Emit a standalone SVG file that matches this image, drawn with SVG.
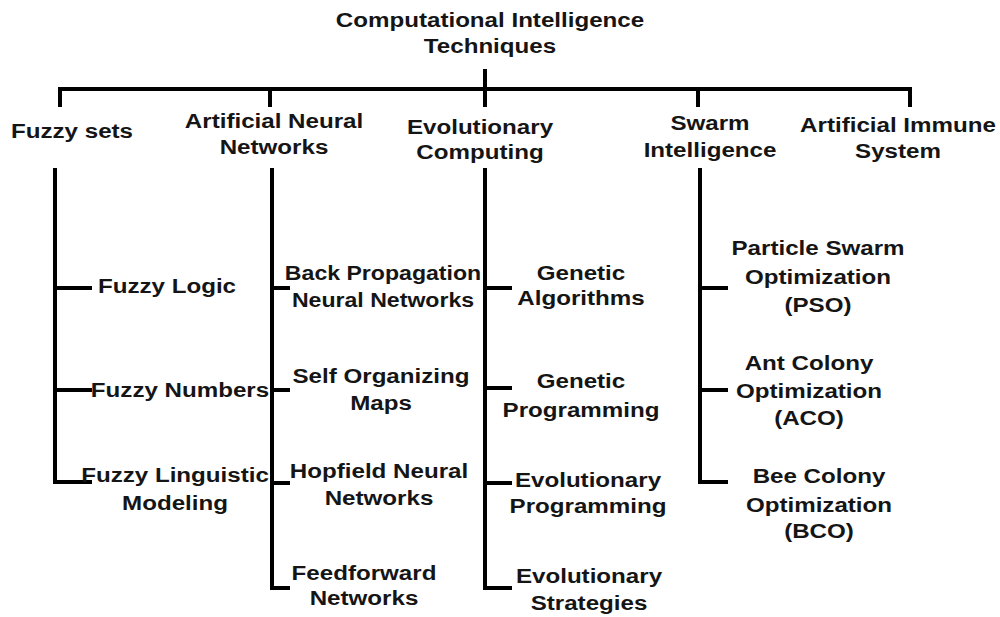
<svg xmlns="http://www.w3.org/2000/svg" width="1000" height="617" viewBox="0 0 1000 617">
<style>
text{font-family:"Liberation Sans",Arial,sans-serif;font-weight:bold;font-size:21px;fill:#151515;text-anchor:middle}
.c path{fill:none;stroke:#000;stroke-width:4;stroke-linejoin:miter;stroke-linecap:butt}
</style>
<rect width="1000" height="617" fill="#fff"/>
<g class="c" id="connectors">
<path d="M60,107 V89 H910 V107"/>
<path d="M270,89 V107"/>
<path d="M485,69 V107"/>
<path d="M698,89 V107"/>
<path d="M55,168 V482 H92 M55,288 H92 M55,390 H92"/>
<path d="M272,168 V588 H290 M272,288 H290 M272,390 H290 M272,483 H290"/>
<path d="M485,168 V588 H512 M485,288 H512 M485,388 H512 M485,483 H512"/>
<path d="M700,168 V482 H728 M700,288 H728 M700,390 H728"/>
</g>
<g id="root"><text transform="translate(490,27) scale(1.15,1)"><tspan x="0" y="0">Computational Intelligence</tspan><tspan x="0" y="26">Techniques</tspan></text></g>
<g id="fuzzy-sets"><text transform="translate(72,138) scale(1.15,1)">Fuzzy sets</text></g>
<g id="ann"><text transform="translate(274,128) scale(1.15,1)"><tspan x="0" y="0">Artificial Neural</tspan><tspan x="0" y="26">Networks</tspan></text></g>
<g id="ec"><text transform="translate(480,134) scale(1.15,1)"><tspan x="0" y="0">Evolutionary</tspan><tspan x="0" y="25">Computing</tspan></text></g>
<g id="swarm"><text transform="translate(710,130) scale(1.15,1)"><tspan x="0" y="0">Swarm</tspan><tspan x="0" y="27">Intelligence</tspan></text></g>
<g id="ais"><text transform="translate(898,132) scale(1.15,1)"><tspan x="0" y="0">Artificial Immune</tspan><tspan x="0" y="26">System</tspan></text></g>
<g id="fuzzy-logic"><text transform="translate(167,293) scale(1.15,1)">Fuzzy Logic</text></g>
<g id="fuzzy-numbers"><text transform="translate(180,397) scale(1.15,1)">Fuzzy Numbers</text></g>
<g id="fuzzy-linguistic"><text transform="translate(175,482) scale(1.15,1)"><tspan x="0" y="0">Fuzzy Linguistic</tspan><tspan x="0" y="28">Modeling</tspan></text></g>
<g id="bpnn"><text transform="translate(383,280) scale(1.1,1)"><tspan x="0" y="0">Back Propagation</tspan><tspan x="0" y="27">Neural Networks</tspan></text></g>
<g id="som"><text transform="translate(381,383) scale(1.15,1)"><tspan x="0" y="0">Self Organizing</tspan><tspan x="0" y="27">Maps</tspan></text></g>
<g id="hopfield"><text transform="translate(379,478) scale(1.15,1)"><tspan x="0" y="0">Hopfield Neural</tspan><tspan x="0" y="27">Networks</tspan></text></g>
<g id="feedforward"><text transform="translate(364,580) scale(1.15,1)"><tspan x="0" y="0">Feedforward</tspan><tspan x="0" y="25">Networks</tspan></text></g>
<g id="ga"><text transform="translate(581,280) scale(1.15,1)"><tspan x="0" y="0">Genetic</tspan><tspan x="0" y="25">Algorithms</tspan></text></g>
<g id="gp"><text transform="translate(581,388) scale(1.15,1)"><tspan x="0" y="0">Genetic</tspan><tspan x="0" y="29">Programming</tspan></text></g>
<g id="ep"><text transform="translate(588,487) scale(1.15,1)"><tspan x="0" y="0">Evolutionary</tspan><tspan x="0" y="26">Programming</tspan></text></g>
<g id="es"><text transform="translate(589,583) scale(1.15,1)"><tspan x="0" y="0">Evolutionary</tspan><tspan x="0" y="27">Strategies</tspan></text></g>
<g id="pso"><text transform="translate(818,255) scale(1.15,1)"><tspan x="0" y="0">Particle Swarm</tspan><tspan x="0" y="29">Optimization</tspan><tspan x="0" y="57">(PSO)</tspan></text></g>
<g id="aco"><text transform="translate(809,370) scale(1.15,1)"><tspan x="0" y="0">Ant Colony</tspan><tspan x="0" y="28">Optimization</tspan><tspan x="0" y="55">(ACO)</tspan></text></g>
<g id="bco"><text transform="translate(819,483) scale(1.15,1)"><tspan x="0" y="0">Bee Colony</tspan><tspan x="0" y="29">Optimization</tspan><tspan x="0" y="55">(BCO)</tspan></text></g>
</svg>
